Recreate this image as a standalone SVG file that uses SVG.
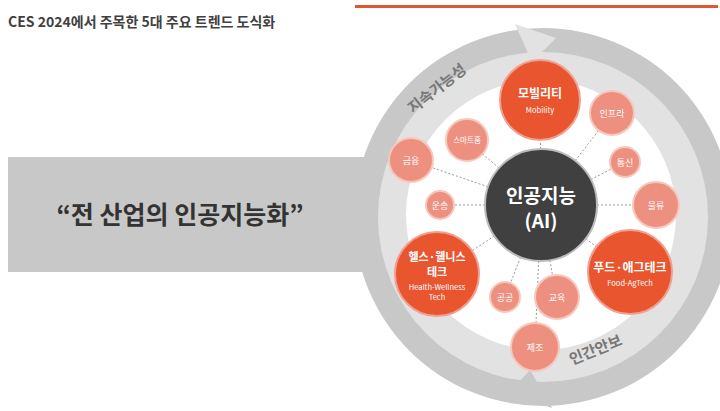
<svg xmlns="http://www.w3.org/2000/svg" width="720" height="411" viewBox="0 0 720 411">
<style>
.k{font-family:"Noto Sans CJK KR","Noto Sans",sans-serif}
.big{fill:#e8552f;stroke:#f0a090;stroke-width:2}
.sm{fill:#ee9080;stroke:#f6c8bc;stroke-width:2}
.t{fill:#fff;text-anchor:middle;font-family:"Noto Sans CJK KR","Noto Sans",sans-serif}
.c{stroke:#999;stroke-width:1;stroke-dasharray:2 2}
</style>
<rect width="720" height="411" fill="#fff"/>
<line x1="355" y1="6.5" x2="718" y2="6.5" stroke="#e0562f" stroke-width="3"/>
<text x="8" y="27" class="k" font-size="14" font-weight="bold" fill="#404040">CES 2024에서 주목한 5대 주요 트렌드 도식화</text>
<rect x="8" y="157" width="420" height="115" fill="#c8c8c8"/>
<circle cx="543" cy="217" r="189" fill="#c8c8c8"/>
<circle cx="543" cy="217" r="165" fill="#e2e2e2"/>
<path d="M515,24 L556,38 L532,62 Z" fill="#e2e2e2"/>
<path d="M552,408 L508,394 L530,370 Z" fill="#c8c8c8"/>
<circle cx="541" cy="215" r="135" fill="#fff"/>
<text x="0" y="0" class="k" font-size="15" font-weight="bold" fill="#777" transform="translate(413,114) rotate(-38)">지속가능성</text>
<text x="0" y="0" class="k" font-size="15" font-weight="bold" fill="#777" transform="translate(572,365) rotate(-22)">인간안보</text>
<text x="180" y="224" class="k" font-size="25" font-weight="bold" fill="#333" text-anchor="middle">“전 산업의 인공지능화”</text>
<g id="connectors">
<line class="c" x1="541" y1="205" x2="540" y2="100"/>
<line class="c" x1="541" y1="205" x2="612" y2="113"/>
<line class="c" x1="541" y1="205" x2="467" y2="140"/>
<line class="c" x1="541" y1="205" x2="410" y2="160"/>
<line class="c" x1="541" y1="205" x2="625" y2="162"/>
<line class="c" x1="541" y1="205" x2="656" y2="205"/>
<line class="c" x1="541" y1="205" x2="440" y2="205"/>
<line class="c" x1="541" y1="205" x2="437" y2="274"/>
<line class="c" x1="541" y1="205" x2="630" y2="272"/>
<line class="c" x1="541" y1="205" x2="505" y2="297"/>
<line class="c" x1="541" y1="205" x2="556" y2="297"/>
<line class="c" x1="541" y1="205" x2="535" y2="347"/>
</g>
<g id="ai"><circle cx="541" cy="205" r="56" fill="#404040" stroke="#bbb" stroke-width="2"/>
<text class="t" x="541" y="203" font-size="19" font-weight="bold">인공지능</text>
<text class="t" x="541" y="228" font-size="19" font-weight="bold">(AI)</text></g>
<g id="mobility"><circle class="big" cx="540" cy="100" r="40"/>
<text class="t" x="540" y="98" font-size="12" font-weight="bold">모빌리티</text>
<text class="t" x="540" y="113" font-size="7.5" fill="#fcd">Mobility</text></g>
<g id="infra"><circle class="sm" cx="612" cy="113" r="22"/><text class="t" x="612" y="117" font-size="9">인프라</text></g>
<g id="smarthome"><circle class="sm" cx="467" cy="140" r="21"/><text class="t" x="467" y="143" font-size="7.5">스마트홈</text></g>
<g id="finance"><circle class="sm" cx="411" cy="160" r="22"/><text class="t" x="411" y="164" font-size="9">금융</text></g>
<g id="telecom"><circle class="sm" cx="625" cy="162" r="15"/><text class="t" x="625" y="166" font-size="9">통신</text></g>
<g id="logistics"><circle class="sm" cx="656" cy="205" r="23"/><text class="t" x="656" y="209" font-size="9">물류</text></g>
<g id="transport"><circle class="sm" cx="440" cy="205" r="14"/><text class="t" x="440" y="209" font-size="9">운송</text></g>
<g id="health"><circle class="big" cx="437" cy="274" r="42"/>
<text class="t" x="437" y="261" font-size="11" font-weight="bold">헬스·웰니스</text>
<text class="t" x="437" y="276" font-size="11" font-weight="bold">테크</text>
<text class="t" x="437" y="290" font-size="7.5">Health-Wellness</text>
<text class="t" x="437" y="300" font-size="7.5">Tech</text></g>
<g id="food"><circle class="big" cx="630" cy="272" r="42"/>
<text class="t" x="630" y="272" font-size="12" font-weight="bold">푸드·애그테크</text>
<text class="t" x="630" y="286" font-size="7.5">Food-AgTech</text></g>
<g id="public"><circle class="sm" cx="505" cy="297" r="15"/><text class="t" x="505" y="301" font-size="9">공공</text></g>
<g id="edu"><circle class="sm" cx="557" cy="297" r="22"/><text class="t" x="557" y="301" font-size="9">교육</text></g>
<g id="manuf"><circle class="sm" cx="535" cy="347" r="24"/><text class="t" x="535" y="351" font-size="9">제조</text></g>
</svg>
